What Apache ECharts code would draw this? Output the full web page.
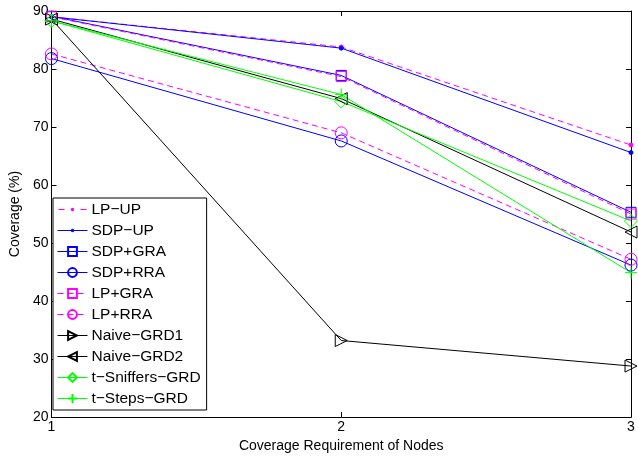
<!DOCTYPE html>
<html>
<head>
<meta charset="utf-8">
<script src="https://cdn.jsdelivr.net/npm/echarts@6/dist/echarts.min.js"></script>
<style>
  html, body { margin: 0; padding: 0; background: #fff; }
  #chart { width: 638px; height: 458px; }
</style>
</head>
<body>
<div id="chart"></div>
<script>
// coverage requirement of nodes (x)
var nodeReq = [1, 2, 3];

// coverage (%) per method
var lpUp = [89.0, 83.8, 66.9];
var sdpUp = [89.0, 83.6, 65.6];
var sdpGra = [89.1, 78.9, 55.3];
var sdpRra = [81.8, 67.6, 46.2];
var lpGra = [89.0, 78.7, 55.0];
var lpRra = [82.6, 69.0, 47.2];
var naiveGrd1 = [88.6, 33.2, 28.8];
var naiveGrd2 = [88.6, 74.9, 51.9];
var tSniffers = [88.3, 74.4, 53.8];
var tSteps = [88.3, 75.6, 44.9];

var seriesNames = ['LP−UP', 'SDP−UP', 'SDP+GRA', 'SDP+RRA', 'LP+GRA', 'LP+RRA',
  'Naive−GRD1', 'Naive−GRD2', 't−Sniffers−GRD', 't−Steps−GRD'];

var FONT = 'Liberation Sans';
var MAGENTA = '#ff00ff', BLUE = '#0000ff', BLACK = '#000000', GREEN = '#00ff00';

var TRI_RIGHT = 'path://M0,0 L10,5 L0,10 Z';
var TRI_LEFT = 'path://M10,0 L0,5 L10,10 Z';
var PLUS = 'path://M5,0 L5,10 M0,5 L10,5';

// legend icons for the point-marker series (line + small dot), 30x11 box
// (tiny corner specks pin the bounding box so the icon is not stretched)
var BOX = 'M0,0 L0.01,0 L0.01,0.01 Z M29.99,10.99 L30,10.99 L30,11 Z ';
var DOT = 'M13.3,5.5 A1.7,1.7 0 1,1 16.7,5.5 A1.7,1.7 0 1,1 13.3,5.5 Z';
var ICON_DASH_DOT = 'path://' + BOX + 'M1,5 L7,5 L7,6 L1,6 Z M23,5 L29,5 L29,6 L23,6 Z ' + DOT;
var ICON_LINE_DOT = 'path://' + BOX + 'M0,5 L13.4,5 L13.4,6 L0,6 Z M16.6,5 L30,5 L30,6 L16.6,6 Z ' + DOT;

function pairs(vals) {
  return vals.map(function (v, i) { return [nodeReq[i], v]; });
}

function mk(name, vals, color, dashed, symbol, size, filled) {
  return {
    name: name,
    type: 'line',
    data: pairs(vals),
    symbol: symbol,
    symbolSize: size,
    showAllSymbol: true,
    animation: false,
    lineStyle: { color: color, width: 1, type: dashed ? [6, 4] : 'solid' },
    itemStyle: filled
      ? { color: color, borderColor: color, borderWidth: 1 }
      : { color: 'rgba(0,0,0,0)', borderColor: color, borderWidth: 1 },
    emphasis: { disabled: true }
  };
}

var series = [
  mk(seriesNames[0], lpUp, MAGENTA, true, 'circle', 4, true),
  mk(seriesNames[1], sdpUp, BLUE, false, 'circle', 4, true),
  mk(seriesNames[2], sdpGra, BLUE, false, 'rect', 10, false),
  mk(seriesNames[3], sdpRra, BLUE, false, 'circle', 12, false),
  mk(seriesNames[4], lpGra, MAGENTA, true, 'rect', 10, false),
  mk(seriesNames[5], lpRra, MAGENTA, true, 'circle', 12, false),
  mk(seriesNames[6], naiveGrd1, BLACK, false, TRI_RIGHT, 12, false),
  mk(seriesNames[7], naiveGrd2, BLACK, false, TRI_LEFT, 12, false),
  mk(seriesNames[8], tSniffers, GREEN, false, 'diamond', 13, false),
  mk(seriesNames[9], tSteps, GREEN, false, PLUS, 12, false)
];

var legendData = seriesNames.map(function (n, i) {
  if (i === 0) return { name: n, icon: ICON_DASH_DOT, itemStyle: { borderWidth: 0 } };
  if (i === 1) return { name: n, icon: ICON_LINE_DOT, itemStyle: { borderWidth: 0 } };
  return { name: n };
});

var chart = echarts.init(document.getElementById('chart'));
chart.setOption({
  backgroundColor: '#fff',
  animation: false,
  textStyle: { fontFamily: FONT },
  grid: { left: 47, right: 7, top: 11, bottom: 40, containLabel: false },
  legend: {
    data: legendData,
    orient: 'vertical',
    left: 53,
    top: 198,
    itemWidth: 30,
    itemHeight: 11,
    itemGap: 4,
    padding: [3, 6, 3, 4],
    backgroundColor: '#fff',
    borderColor: '#000',
    borderWidth: 1,
    selectedMode: false,
    lineStyle: { width: 1 },
    textStyle: { fontFamily: FONT, fontSize: 15.5, color: '#000', lineHeight: 17, padding: [0, 0, 0, -1] }
  },
  xAxis: [{
    type: 'value', min: 1, max: 3, interval: 1,
    name: 'Coverage Requirement of Nodes', nameLocation: 'middle', nameGap: 15,
    nameTextStyle: { fontFamily: FONT, fontSize: 14, color: '#000' },
    axisLine: { show: true, lineStyle: { color: '#000', width: 1 } },
    axisTick: { show: true, inside: true, length: 5, lineStyle: { color: '#000' } },
    axisLabel: { fontFamily: FONT, fontSize: 14, color: '#000', margin: 3 },
    splitLine: { show: false }
  }, {
    type: 'value', min: 1, max: 3, interval: 1, position: 'top',
    axisLine: { show: true, lineStyle: { color: '#000', width: 1 } },
    axisTick: { show: true, inside: true, length: 5, lineStyle: { color: '#000' } },
    axisLabel: { show: false },
    splitLine: { show: false }
  }],
  yAxis: [{
    type: 'value', min: 20, max: 90, interval: 10,
    name: 'Coverage (%)', nameLocation: 'middle', nameGap: 26,
    nameTextStyle: { fontFamily: FONT, fontSize: 14, color: '#000' },
    axisLine: { show: true, lineStyle: { color: '#000', width: 1 } },
    axisTick: { show: true, inside: true, length: 5, lineStyle: { color: '#000' } },
    axisLabel: { fontFamily: FONT, fontSize: 14, color: '#000', margin: 3 },
    splitLine: { show: false }
  }, {
    type: 'value', min: 20, max: 90, interval: 10, position: 'right',
    axisLine: { show: true, lineStyle: { color: '#000', width: 1 } },
    axisTick: { show: true, inside: true, length: 5, lineStyle: { color: '#000' } },
    axisLabel: { show: false },
    splitLine: { show: false }
  }],
  series: series
});
</script>
</body>
</html>
